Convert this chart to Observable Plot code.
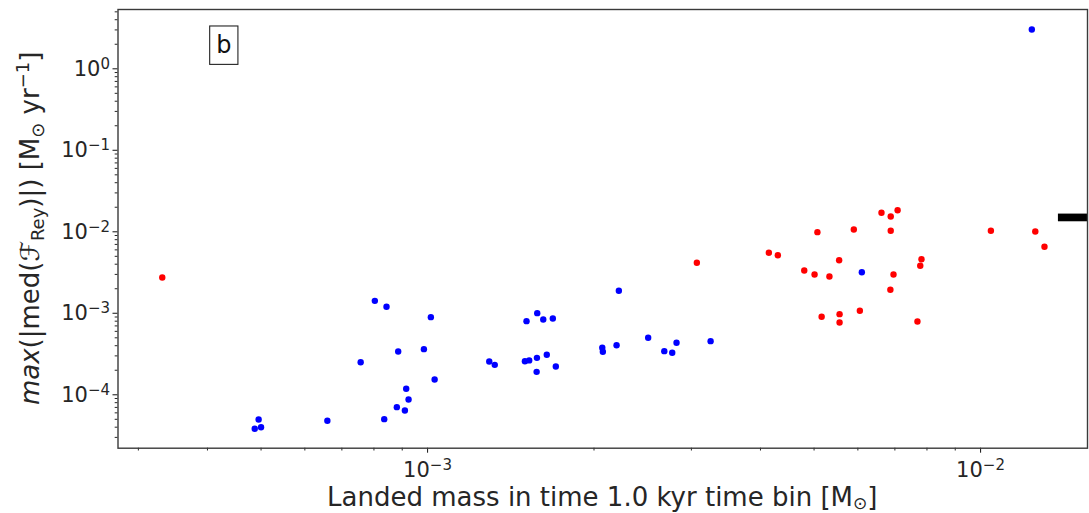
<!DOCTYPE html>
<html>
<head>
<meta charset="utf-8">
<script src="https://cdn.jsdelivr.net/npm/d3@7"></script>
<script src="https://cdn.jsdelivr.net/npm/@observablehq/plot@0.6"></script>
<style>
  html, body { margin: 0; padding: 0; background: #fff; }
  #chart svg { display: block; }
</style>
</head>
<body>
<div id="chart"></div>
<script>
// Blue population: landed mass per 1.0 kyr bin [M_sun] and max |median Reynolds flux| [M_sun/yr]
const blueMass = [
  1.238e-2, 6.10e-3, 4.95e-4, 4.87e-4, 5.00e-4, 8.03e-4, 8.43e-4, 1.014e-3,
  8.85e-4, 9.85e-4, 7.57e-4, 1.293e-3, 1.323e-3, 1.030e-3, 9.15e-4, 9.24e-4,
  8.80e-4, 9.10e-4, 8.35e-4, 6.59e-4, 2.218e-3, 1.579e-3, 1.510e-3, 1.619e-3,
  1.685e-3, 2.506e-3, 2.197e-3, 2.070e-3, 2.075e-3, 2.82e-3, 2.68e-3, 2.77e-3,
  3.25e-3, 1.500e-3, 1.527e-3, 1.577e-3, 1.643e-3, 1.706e-3, 1.575e-3
];
const blueFlux = [
  3.03, 3.19e-3, 4.98e-5, 3.83e-5, 4.00e-5, 1.42e-3, 1.20e-3, 8.96e-4,
  3.40e-4, 3.63e-4, 2.51e-4, 2.56e-4, 2.33e-4, 1.54e-4, 1.185e-4, 8.76e-5,
  7.05e-5, 6.42e-5, 5.02e-5, 4.80e-5, 1.89e-3, 1.003e-3, 8.00e-4, 8.39e-4,
  8.63e-4, 5.00e-4, 4.06e-4, 3.77e-4, 3.37e-4, 4.35e-4, 3.43e-4, 3.28e-4,
  4.55e-4, 2.58e-4, 2.64e-4, 2.84e-4, 3.10e-4, 2.22e-4, 1.91e-4
];

// Red population
const redMass = [
  3.314e-4, 3.069e-3, 4.142e-3, 4.30e-3, 5.07e-3, 5.90e-3, 6.62e-3, 6.88e-3,
  7.08e-3, 6.88e-3, 5.55e-3, 4.80e-3, 5.01e-3, 5.33e-3, 6.96e-3, 7.82e-3,
  7.78e-3, 6.87e-3, 5.16e-3, 5.56e-3, 5.56e-3, 6.05e-3, 7.69e-3, 1.044e-2,
  1.256e-2, 1.305e-2
];
const redFlux = [
  2.75e-3, 4.17e-3, 5.53e-3, 5.16e-3, 9.89e-3, 1.067e-2, 1.71e-2, 1.54e-2,
  1.84e-2, 1.029e-2, 4.48e-3, 3.35e-3, 2.99e-3, 2.83e-3, 2.99e-3, 4.61e-3,
  3.83e-3, 1.94e-3, 9.06e-4, 9.75e-4, 7.71e-4, 1.073e-3, 7.93e-4, 1.029e-2,
  1.009e-2, 6.55e-3
];

// Reference rate marked at the right-hand edge of the axes
const referenceRate = [0.015];

// Panel tag
const panelTag = ["b"];

// Axis limits and labelled decades
const xDomain = [2.756e-4, 1.561e-2];
const yDomain = [2.21e-5, 5.34];
const xMajorTicks = [1e-3, 1e-2];
const yMajorTicks = [1e-4, 1e-3, 1e-2, 1e-1, 1e0];

// Minor log ticks (2..9 x 10^k) inside the limits
function minorTicks([lo, hi]) {
  const out = [];
  for (let k = Math.floor(Math.log10(lo)); k <= Math.ceil(Math.log10(hi)); k++) {
    for (let m = 2; m <= 9; m++) {
      const v = m * Math.pow(10, k);
      if (v >= lo && v <= hi) out.push(v);
    }
  }
  return out;
}
const xMinorTicks = minorTicks(xDomain);
const yMinorTicks = minorTicks(yDomain);

const blue = blueMass.map((m, i) => ({mass: m, flux: blueFlux[i]}));
const red = redMass.map((m, i) => ({mass: m, flux: redFlux[i]}));

// the reference bar spans the last 3% of the log x-range
const lx0 = Math.log10(xDomain[0]), lx1 = Math.log10(xDomain[1]);
const barStart = Math.pow(10, lx0 + 0.97 * (lx1 - lx0));

const decadeLabel = d => `10^${Math.round(Math.log10(d))}`;
const ink = "#262626";

const chart = Plot.plot({
  width: 1089,
  height: 513,
  marginLeft: 117.5,
  marginRight: 2,
  marginTop: 9,
  marginBottom: 65.3,
  style: {fontFamily: "DejaVu Sans", fontSize: "21px", color: ink, background: "#fff"},
  x: {type: "log", domain: xDomain},
  y: {type: "log", domain: yDomain},
  marks: [
    Plot.axisX(xMinorTicks, {tickSize: 2.8, stroke: ink, strokeWidth: 1, tickFormat: () => "", label: null}),
    Plot.axisX(xMajorTicks, {tickSize: 5, tickPadding: 8.4, stroke: ink, strokeWidth: 1.1, tickFormat: decadeLabel, label: null}),
    Plot.axisY(yMinorTicks, {tickSize: 2.8, stroke: ink, strokeWidth: 1, tickFormat: () => "", label: null}),
    Plot.axisY(yMajorTicks, {tickSize: 5, tickPadding: 3, stroke: ink, strokeWidth: 1.1, tickFormat: decadeLabel, label: null}),
    Plot.dot(red, {x: "mass", y: "flux", r: 3.2, fill: "#ff0000", stroke: "none"}),
    Plot.dot(blue, {x: "mass", y: "flux", r: 3.2, fill: "#0000ff", stroke: "none"}),
    Plot.ruleY(referenceRate, {x1: barStart, x2: xDomain[1], stroke: "#000", strokeWidth: 7.7}),
    Plot.frame({stroke: "#3a3a3a", strokeWidth: 1.4}),
    Plot.text(panelTag, {text: d => d, frameAnchor: "top-left", dx: 105.8, dy: 36, fontSize: 24, fill: "#111", textAnchor: "middle", lineAnchor: "middle"})
  ]
});

document.getElementById("chart").appendChild(chart);

const svg = d3.select(chart);

// Decade tick labels as 10 with a raised exponent
svg.selectAll("text").each(function() {
  const m = /^10\^(-?\d+)$/.exec(this.textContent);
  if (!m) return;
  const t = d3.select(this);
  t.text("");
  t.append("tspan").text("10");
  t.append("tspan").attr("font-size", 15).attr("dy", -7).text(m[1].replace("-", "\u2212"));
});

// Box round the panel tag
svg.selectAll("text").each(function() {
  if (this.textContent !== "b") return;
  const bb = this.getBBox();
  const ctm = this.getAttribute("transform");
  const padX = 6.5, padY = 5.2;
  d3.select(this.parentNode).insert("rect", () => this)
    .attr("x", bb.x - padX).attr("y", bb.y - padY)
    .attr("width", bb.width + 2 * padX).attr("height", bb.height + 2 * padY)
    .attr("transform", ctm)
    .attr("fill", "#fff").attr("stroke", "#222").attr("stroke-width", 1.1);
});

// Axis titles
const xt = svg.append("text")
  .attr("x", (117.5 + 1087) / 2).attr("y", 505.5)
  .attr("text-anchor", "middle").attr("font-size", 26).attr("fill", ink)
  .attr("font-family", "DejaVu Sans");
xt.append("tspan").text("Landed mass in time 1.0 kyr time bin [M");
xt.append("tspan").attr("font-size", 17).attr("dy", 3).text("\u2299");
xt.append("tspan").attr("dy", -3).text("]");

const yt = svg.append("text")
  .attr("transform", `translate(39,${(9 + 447.7) / 2}) rotate(-90)`)
  .attr("text-anchor", "middle").attr("font-size", 26).attr("fill", ink)
  .attr("font-family", "DejaVu Sans");
yt.append("tspan").attr("font-style", "italic").text("max");
yt.append("tspan").text("(|med(");
yt.append("tspan").attr("font-style", "italic").text("\u2131");
yt.append("tspan").attr("font-size", 18).attr("dy", 5).text("Rey");
yt.append("tspan").attr("dy", -5).text(")|) [M");
yt.append("tspan").attr("font-size", 18).attr("dy", 5).text("\u2299");
yt.append("tspan").attr("dy", -5).text(" yr");
yt.append("tspan").attr("font-size", 18).attr("dy", -10).text("\u22121");
yt.append("tspan").attr("dy", 10).text("]");
</script>
</body>
</html>
